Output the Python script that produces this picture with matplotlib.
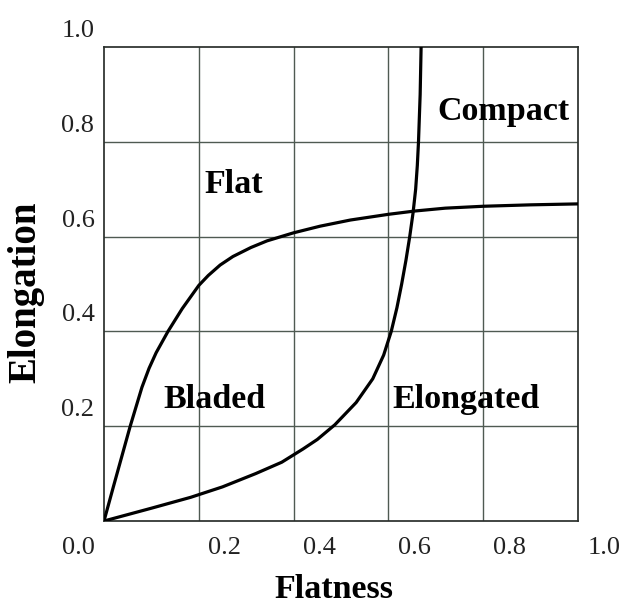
import matplotlib.pyplot as plt
import numpy as np

# Flat / Bladed boundary
flat_x = [0.0, 0.02, 0.04, 0.055, 0.08, 0.095, 0.11, 0.135, 0.165, 0.200, 0.22, 0.245,
          0.272, 0.31, 0.344, 0.40, 0.456, 0.52, 0.60, 0.656, 0.72, 0.80, 0.90, 1.0]
flat_y = [0.0, 0.073, 0.145, 0.199, 0.282, 0.322, 0.355, 0.400, 0.448, 0.497, 0.518, 0.540,
          0.558, 0.577, 0.591, 0.608, 0.622, 0.635, 0.647, 0.654, 0.660, 0.664, 0.667, 0.669]

# Bladed / Elongated boundary
elong_x = [0.0, 0.1, 0.183, 0.25, 0.32, 0.375, 0.42, 0.45, 0.487, 0.532, 0.567, 0.590,
           0.606, 0.618, 0.628, 0.637, 0.645, 0.652, 0.6575, 0.661, 0.6635, 0.667, 0.669]
elong_y = [0.0, 0.027, 0.05, 0.072, 0.10, 0.124, 0.152, 0.172, 0.203, 0.25, 0.30, 0.35,
           0.40, 0.45, 0.50, 0.55, 0.60, 0.65, 0.70, 0.75, 0.80, 0.90, 1.0]

region_names = ['Flat', 'Compact', 'Bladed', 'Elongated']
region_x = [0.274, 0.842, 0.234, 0.764]
region_y = [0.691, 0.846, 0.238, 0.238]

tick_vals = [0.2, 0.4, 0.6, 0.8, 1.0]
tick_labels = ['0.2', '0.4', '0.6', '0.8', '1.0']

serif = ['Liberation Serif', 'DejaVu Serif']
px = 72 / 100  # pixels -> points

fig = plt.figure(figsize=(6.22, 6.04), dpi=100)
ax = fig.add_axes([104 / 622, 83 / 604, 474 / 622, 474 / 604])
ax.set_xlim(0, 1)
ax.set_ylim(0, 1)

ax.set_xticks([0.2, 0.4, 0.6, 0.8])
ax.set_yticks([0.2, 0.4, 0.6, 0.8])
ax.tick_params(length=0, labelbottom=False, labelleft=False)
ax.grid(True, color='#4f5a52', linewidth=1.0)
for s in ax.spines.values():
    s.set_color('#2a2f2c')
    s.set_linewidth(1.25)

ax.plot(flat_x, flat_y, color='black', lw=2.3, solid_joinstyle='round', zorder=3)
ax.plot(elong_x, elong_y, color='black', lw=2.3, solid_joinstyle='round', zorder=3)

for name, x, y in zip(region_names, region_x, region_y):
    ax.text(x, y, name, ha='center', va='baseline', fontsize=24.5,
            fontweight='bold', family=serif)

# tick labels sit offset from the grid lines, as in the original figure
for v, lbl in zip(tick_vals, tick_labels):
    ax.annotate(lbl, xy=(v, 0), xytext=(26 * px, -32.5 * px), textcoords='offset points',
                ha='center', va='baseline', fontsize=19, family=serif, color='#222222')
    ax.annotate(lbl, xy=(0, v), xytext=(-26 * px, 10 * px), textcoords='offset points',
                ha='center', va='baseline', fontsize=19, family=serif, color='#222222')
ax.annotate('0.0', xy=(0, 0), xytext=(-26 * px, -32.5 * px), textcoords='offset points',
            ha='center', va='baseline', fontsize=19, family=serif, color='#222222')

ax.text(0.485, -0.1615, 'Flatness', transform=ax.transAxes, ha='center', va='baseline',
        fontsize=24.5, fontweight='bold', family=serif)
ax.text(-0.1456, 0.483, 'Elongation', transform=ax.transAxes, ha='center', va='baseline',
        rotation=90, rotation_mode='anchor', fontsize=28, fontweight='bold', family=serif)

fig.savefig('out.png', dpi=100)
